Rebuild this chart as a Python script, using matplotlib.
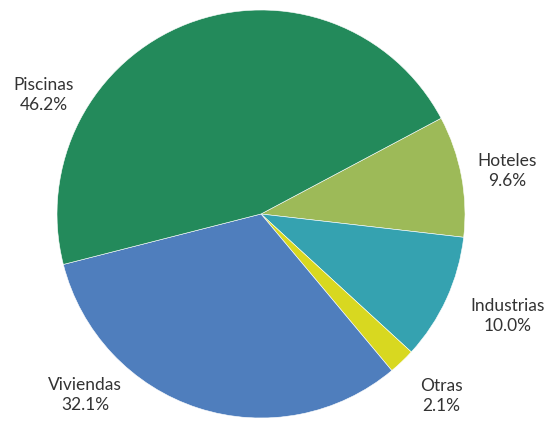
import matplotlib.pyplot as plt

labels = ['Hoteles', 'Industrias', 'Otras', 'Viviendas', 'Piscinas']
shares = [9.6, 10.0, 2.1, 32.1, 46.2]
colors = ['#9dba58', '#35a2b0', '#d8d820', '#4f7ebd', '#238a5b']

# label anchor points (pixel coords, origin bottom-left)
label_pos = [(507, 255), (508, 110), (441, 30), (85, 31), (44, 331)]

fig = plt.figure(figsize=(5.51, 4.26), dpi=100)
ax = fig.add_axes([0, 0, 1, 1])
ax.pie(shares, colors=colors, startangle=28, counterclock=False,
       center=(261, 212), radius=204,
       wedgeprops=dict(edgecolor='white', linewidth=0.4))
ax.set_xlim(0, 551)
ax.set_ylim(0, 426)
ax.set_aspect('equal')
ax.axis('off')

for name, val, (x, y) in zip(labels, shares, label_pos):
    ax.text(x, y, f'{name}\n{val:.1f}%', ha='center', va='center',
            fontsize=12.5, color='#333333', family='Lato',
            linespacing=1.3)

fig.savefig('out.png', dpi=100)
